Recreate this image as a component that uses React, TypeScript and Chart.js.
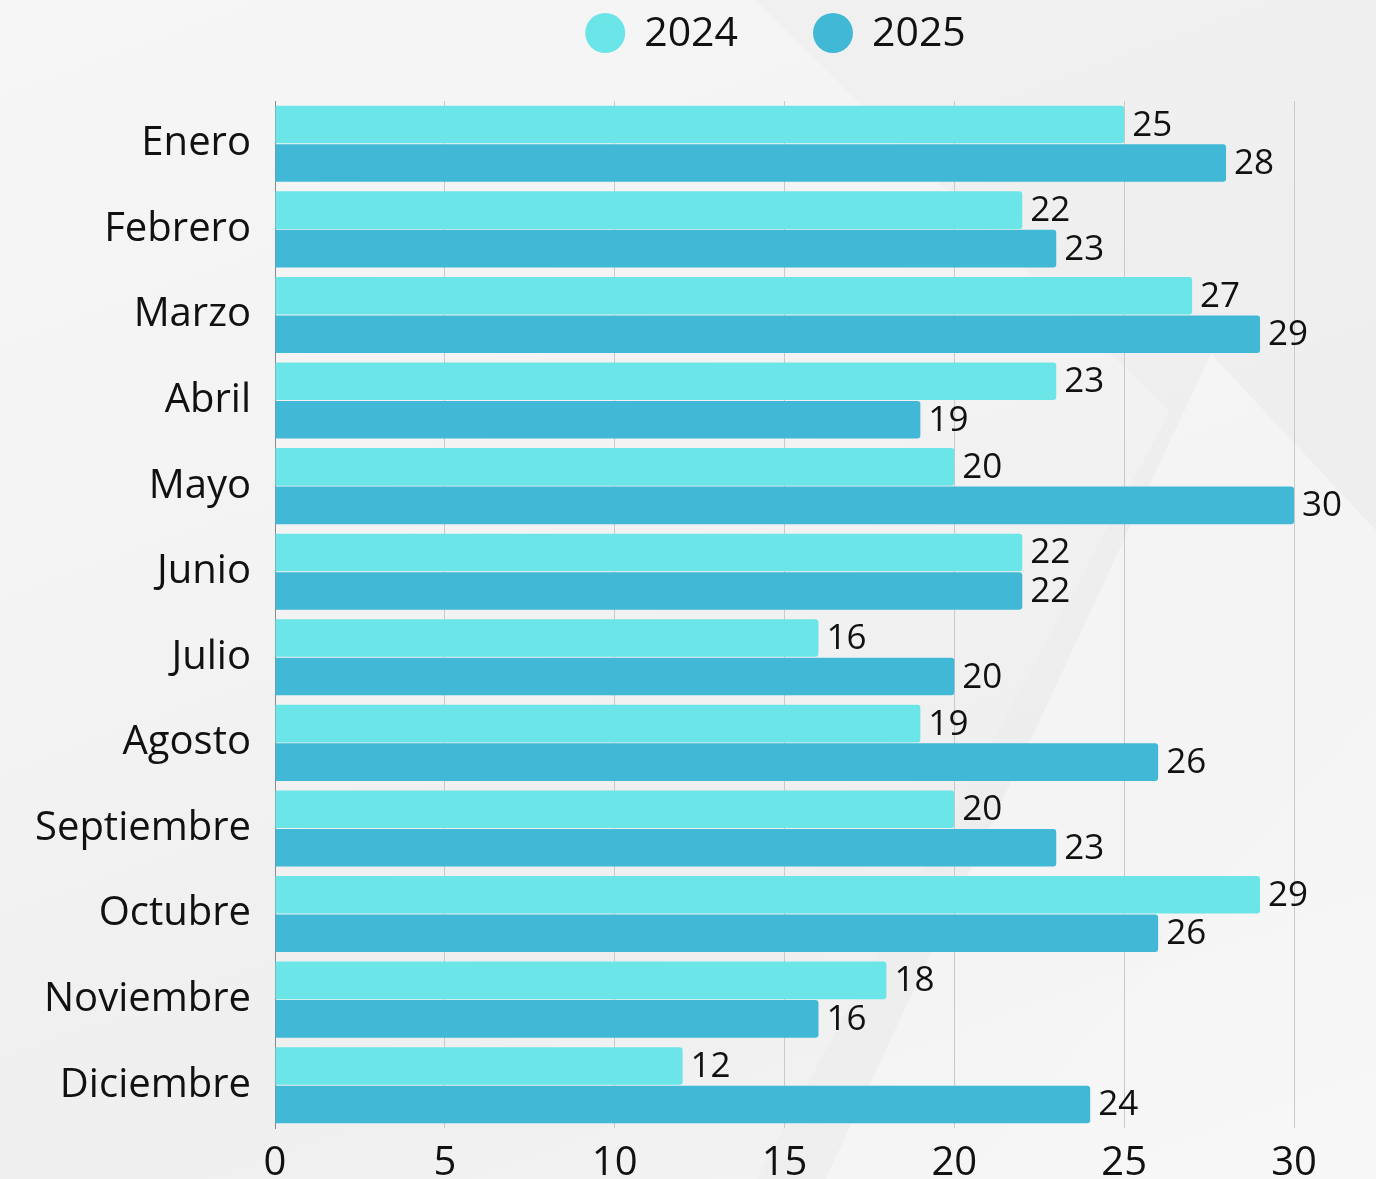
import { useEffect, useRef } from "react";
import { Chart, registerables } from "chart.js";

Chart.register(...registerables);

const months = [
  "Enero",
  "Febrero",
  "Marzo",
  "Abril",
  "Mayo",
  "Junio",
  "Julio",
  "Agosto",
  "Septiembre",
  "Octubre",
  "Noviembre",
  "Diciembre",
];
const values2024 = [25, 22, 27, 23, 20, 22, 16, 19, 20, 29, 18, 12];
const values2025 = [28, 23, 29, 19, 30, 22, 20, 26, 23, 26, 16, 24];
const seriesLabels = ["2024", "2025"];
const seriesColors = ["#6CE5E8", "#41B8D5"];
const xMin = 0;
const xMax = 30;
const xStep = 5;

const FONT = "'Open Sans', 'Noto Sans', sans-serif";

const legendPlugin = {
  id: "customLegend",
  afterDraw(chart: any) {
    const ctx = chart.ctx;
    ctx.save();
    ctx.font = `41px ${FONT}`;
    ctx.textBaseline = "middle";
    ctx.textAlign = "left";
    const cy = 33;
    const r = 20;
    const gapCT = 19;
    const gapItems = 75;
    const items = chart.data.datasets.map((ds: any) => ({
      label: ds.label,
      color: ds.backgroundColor,
      w: ctx.measureText(ds.label).width,
    }));
    const total =
      items.reduce((s: number, it: any) => s + 2 * r + gapCT + it.w, 0) +
      gapItems * (items.length - 1);
    const ca = chart.chartArea;
    let x = (ca.left + ca.right) / 2 - 9 - total / 2;
    for (const it of items) {
      ctx.fillStyle = it.color;
      ctx.beginPath();
      ctx.arc(x + r, cy, r, 0, Math.PI * 2);
      ctx.fill();
      ctx.fillStyle = "#111";
      ctx.fillText(it.label, x + 2 * r + gapCT, cy + 1);
      x += 2 * r + gapCT + it.w + gapItems;
    }
    ctx.restore();
  },
};

const valueLabelPlugin = {
  id: "valueLabels",
  afterDatasetsDraw(chart: any) {
    const ctx = chart.ctx;
    ctx.save();
    ctx.font = `35px ${FONT}`;
    ctx.fillStyle = "#111";
    ctx.textAlign = "left";
    ctx.textBaseline = "middle";
    chart.data.datasets.forEach((ds: any, di: number) => {
      const meta = chart.getDatasetMeta(di);
      meta.data.forEach((el: any, i: number) => {
        ctx.fillText(String(ds.data[i]), el.x + 8, el.y + 1);
      });
    });
    ctx.restore();
  },
};

export default function App() {
  const ref = useRef<HTMLCanvasElement | null>(null);

  useEffect(() => {
    if (!ref.current) return;
    const chart = new Chart(ref.current, {
      type: "bar",
      data: {
        labels: months,
        datasets: [
          {
            label: seriesLabels[0],
            data: values2024,
            backgroundColor: seriesColors[0],
            borderRadius: 3,
            borderSkipped: "start",
          },
          {
            label: seriesLabels[1],
            data: values2025,
            backgroundColor: seriesColors[1],
            borderRadius: 3,
            borderSkipped: "start",
          },
        ],
      },
      options: {
        indexAxis: "y",
        animation: false,
        responsive: false,
        maintainAspectRatio: false,
        layout: { padding: { top: 101, right: 82, left: 0, bottom: 0 } },
        datasets: {
          bar: { categoryPercentage: 0.9, barPercentage: 0.975 },
        },
        plugins: {
          legend: { display: false },
          tooltip: { enabled: false },
        },
        scales: {
          x: {
            min: xMin,
            max: xMax,
            ticks: {
              stepSize: xStep,
              color: "#111",
              font: { family: FONT, size: 40 },
              padding: 12,
            },
            grid: { color: "#c9c9c9", lineWidth: 1, drawTicks: false },
            border: { display: false },
            afterFit: (scale: any) => {
              scale.height = 51;
            },
          },
          y: {
            ticks: {
              color: "#111",
              font: { family: FONT, size: 40 },
              padding: 24,
            },
            grid: { display: false, drawTicks: false },
            border: { display: true, color: "#8a8a8a", width: 1 },
            afterFit: (scale: any) => {
              scale.width = 275;
            },
          },
        },
      },
      plugins: [legendPlugin, valueLabelPlugin],
    });
    return () => chart.destroy();
  }, []);

  return (
    <div
      style={{
        position: "fixed",
        left: 0,
        top: 0,
        width: 1376,
        height: 1179,
        overflow: "hidden",
        background:
          "linear-gradient(160deg, #f6f6f6 0%, #f3f3f3 40%, #efefef 70%, #f5f5f5 100%)",
      }}
    >
      <div
        style={{
          position: "absolute",
          inset: 0,
          background: "#ebebeb",
          opacity: 0.5,
          clipPath: "polygon(55% 0%, 100% 0%, 100% 60%, 70% 100%, 55% 100%, 85% 35%)",
        }}
      />
      <div
        style={{
          position: "absolute",
          inset: 0,
          background: "#f9f9f9",
          opacity: 0.6,
          clipPath: "polygon(88% 30%, 100% 45%, 100% 100%, 60% 100%)",
        }}
      />
      <canvas
        ref={ref}
        width={1376}
        height={1179}
        style={{ position: "absolute", left: 0, top: 0, width: 1376, height: 1179 }}
      />
    </div>
  );
}
